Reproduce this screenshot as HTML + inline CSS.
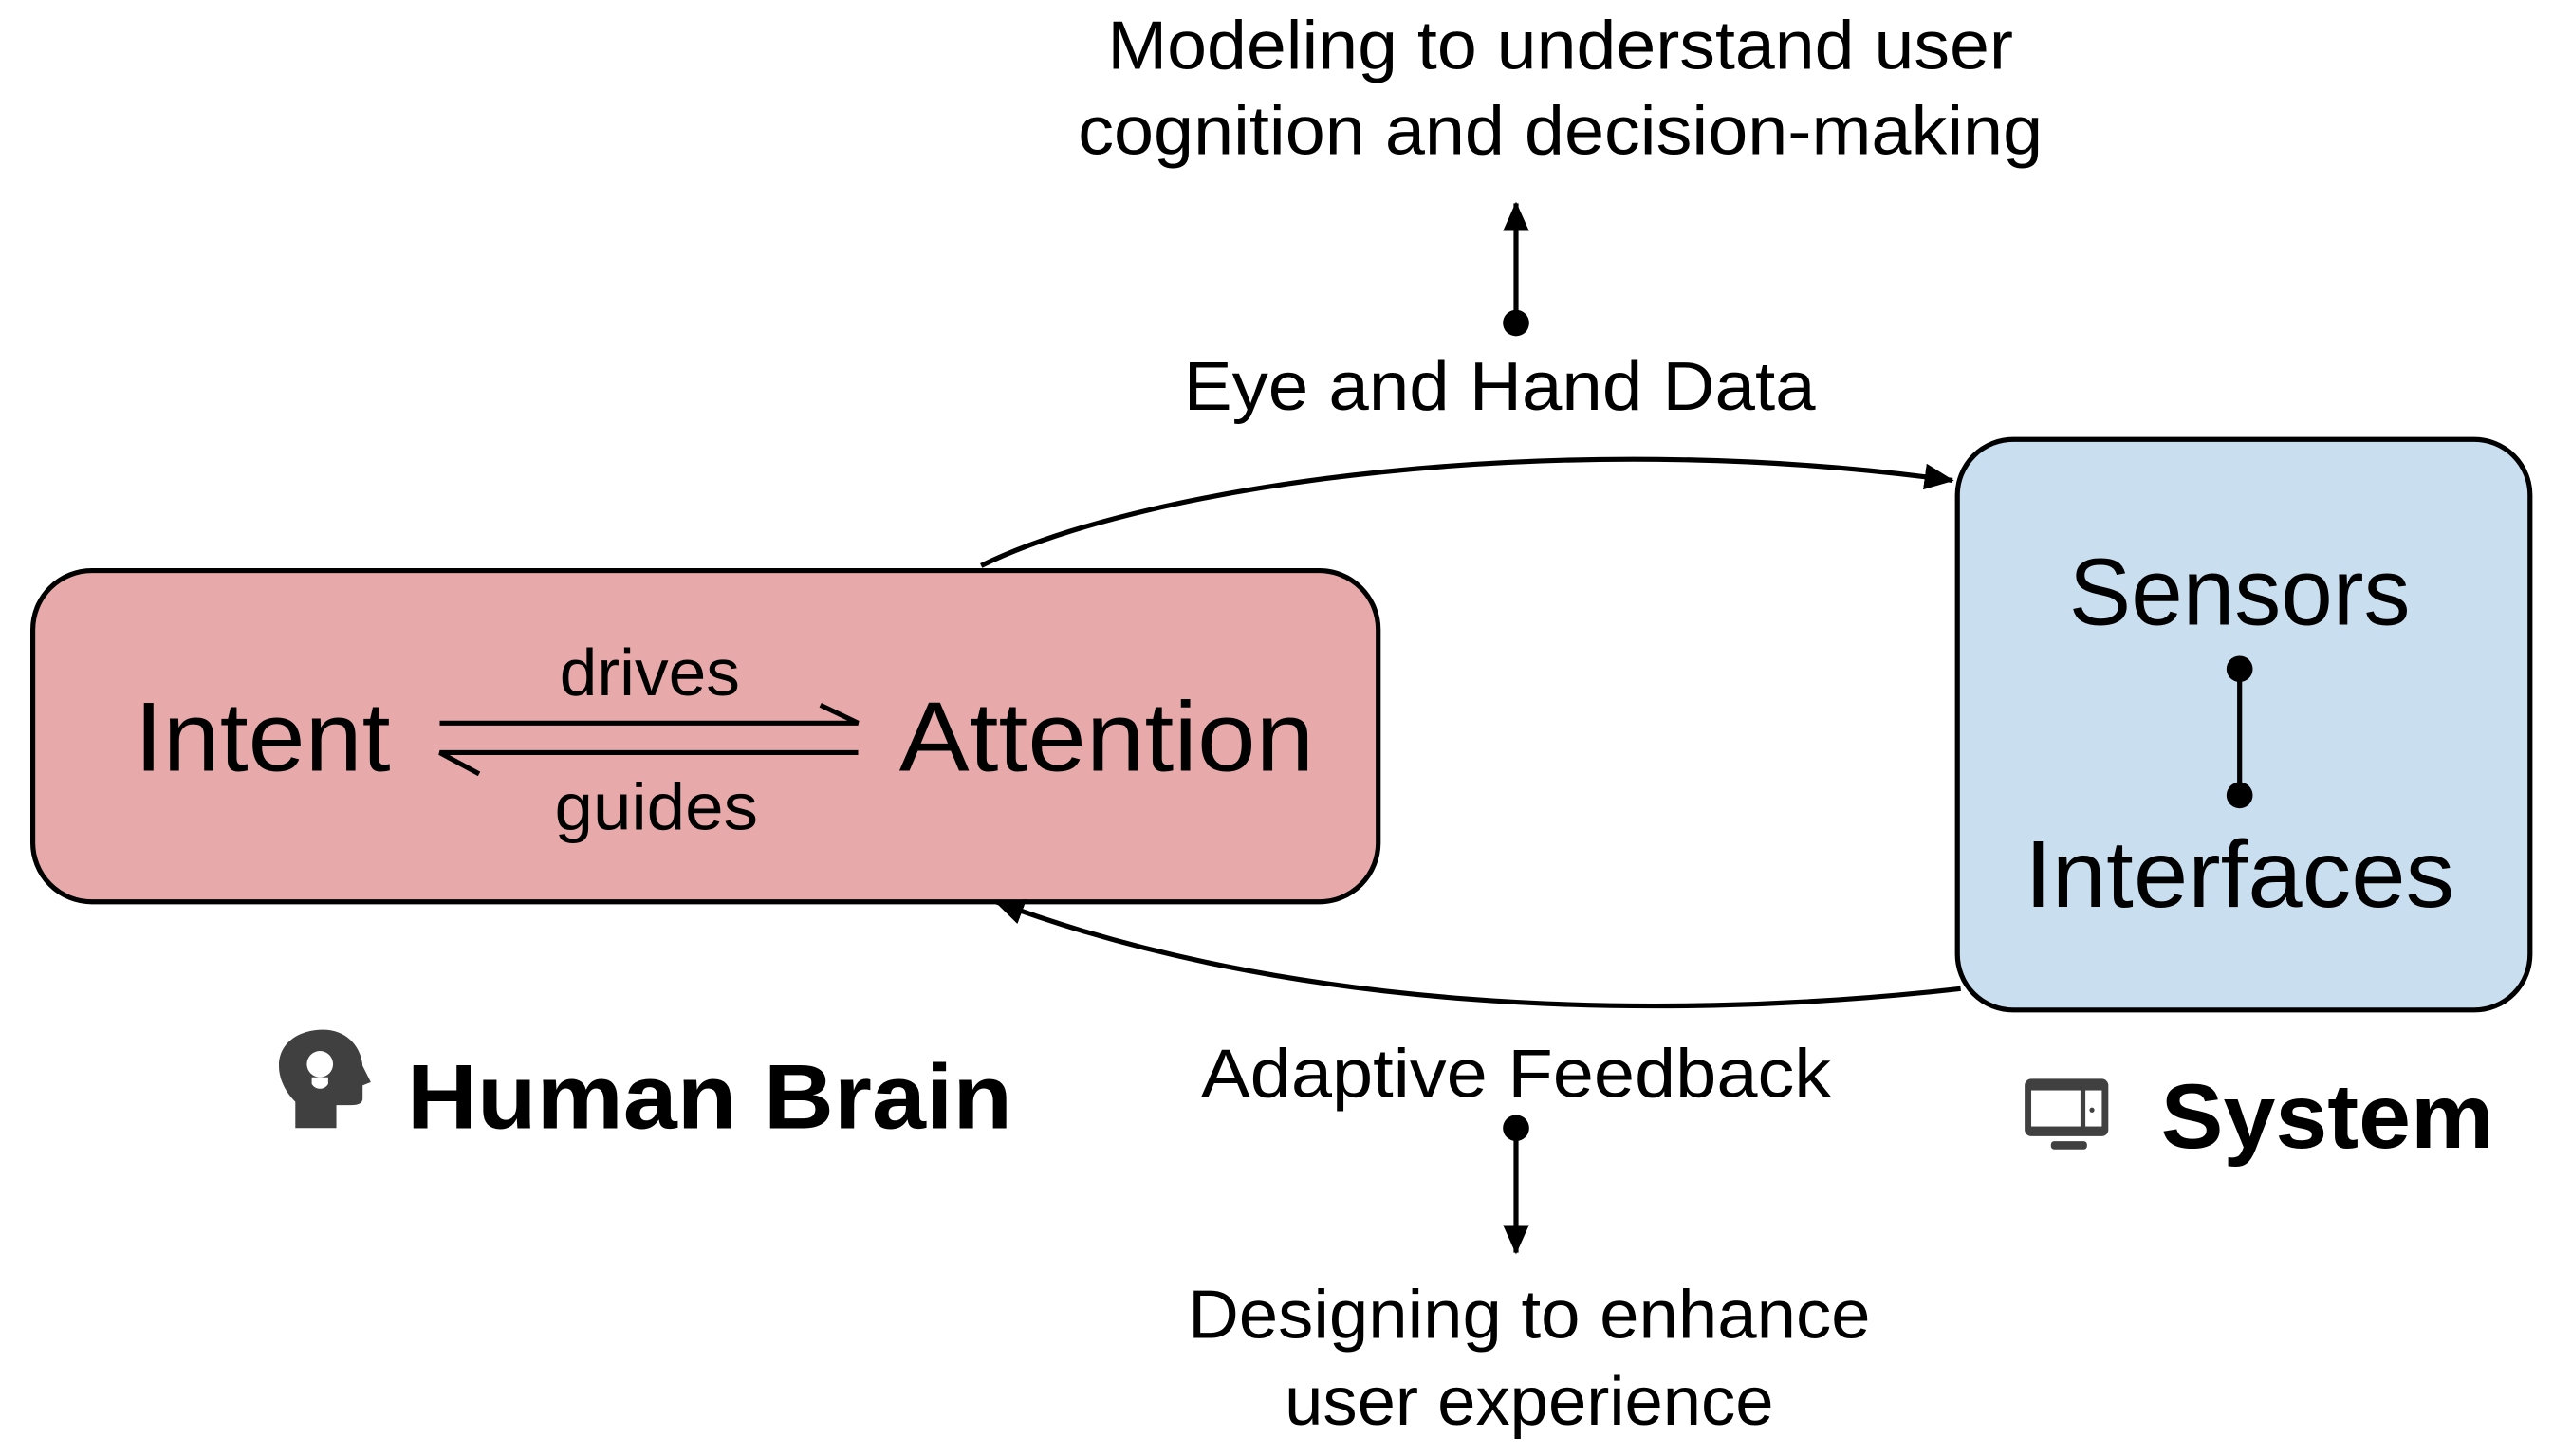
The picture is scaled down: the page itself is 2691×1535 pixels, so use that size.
<!DOCTYPE html>
<html><head><meta charset="utf-8">
<style>
html,body{margin:0;padding:0;background:#fff;}
svg{display:block;}
text{font-family:"Liberation Sans",sans-serif;fill:#000;}
</style></head>
<body>
<svg width="2691" height="1535" viewBox="0 0 1556 888" preserveAspectRatio="none" xmlns="http://www.w3.org/2000/svg">
<defs>
<marker id="ah2" markerWidth="18" markerHeight="16" refX="17" refY="8" orient="auto" markerUnits="userSpaceOnUse">
<path d="M0,0 L18,8 L0,16 z" fill="#000"/>
</marker>
</defs>

<text x="951" y="42" font-size="42" font-weight="300" text-anchor="middle" textLength="552" lengthAdjust="spacingAndGlyphs">Modeling to understand user</text>
<text x="951" y="94" font-size="42" font-weight="300" text-anchor="middle" textLength="588" lengthAdjust="spacingAndGlyphs">cognition and decision-making</text>
<line x1="924" y1="197" x2="924" y2="124" stroke="#000" stroke-width="3" marker-end="url(#ah2)"/>
<circle cx="924" cy="197" r="8" fill="#000"/>
<text x="914" y="250" font-size="42" text-anchor="middle" textLength="385" lengthAdjust="spacingAndGlyphs">Eye and Hand Data</text>

<rect x="20" y="348" width="820" height="202" rx="36" fill="#e8a9aa" stroke="#000" stroke-width="3"/>
<text x="82" y="470" font-size="60" textLength="156" lengthAdjust="spacingAndGlyphs">Intent</text>
<text x="548" y="470" font-size="60" textLength="253" lengthAdjust="spacingAndGlyphs">Attention</text>
<text x="396" y="424" font-size="40" font-weight="300" text-anchor="middle" textLength="110" lengthAdjust="spacingAndGlyphs">drives</text>
<text x="400" y="506" font-size="40" font-weight="300" text-anchor="middle" textLength="124" lengthAdjust="spacingAndGlyphs">guides</text>
<path d="M268,441 L523,441 L500,430" fill="none" stroke="#000" stroke-width="3"/>
<path d="M523,459 L268,459 L292,472" fill="none" stroke="#000" stroke-width="3"/>

<rect x="1193" y="268" width="349" height="348" rx="34" fill="#c9dff0" stroke="#000" stroke-width="3"/>
<text x="1365" y="381" font-size="58" text-anchor="middle" textLength="208" lengthAdjust="spacingAndGlyphs">Sensors</text>
<text x="1365" y="553" font-size="58" text-anchor="middle" textLength="262" lengthAdjust="spacingAndGlyphs">Interfaces</text>
<line x1="1365" y1="408" x2="1365" y2="485" stroke="#000" stroke-width="3"/>
<circle cx="1365" cy="408" r="8" fill="#000"/>
<circle cx="1365" cy="485" r="8" fill="#000"/>

<path d="M598,345 C700,295 950,260 1190,293" fill="none" stroke="#000" stroke-width="3" marker-end="url(#ah2)"/>
<path d="M1195,603 C1000,625 780,615 607,550" fill="none" stroke="#000" stroke-width="3" marker-end="url(#ah2)"/>

<text x="924" y="669" font-size="42" text-anchor="middle" textLength="384" lengthAdjust="spacingAndGlyphs">Adaptive Feedback</text>
<circle cx="924" cy="688" r="8" fill="#000"/>
<line x1="924" y1="688" x2="924" y2="764" stroke="#000" stroke-width="3" marker-end="url(#ah2)"/>
<text x="932" y="816" font-size="42" font-weight="300" text-anchor="middle" textLength="416" lengthAdjust="spacingAndGlyphs">Designing to enhance</text>
<text x="932" y="869" font-size="42" font-weight="300" text-anchor="middle" textLength="298" lengthAdjust="spacingAndGlyphs">user experience</text>

<path d="M180,688 L180,672 C173,665 170,657 170,650 C170,636 182,628 197,628 C211,628 220,638 221,650 L226,660 L221,662 L221,670 C221,673 218,674 214,674 L205,674 L205,688 Z" fill="#404040"/>
<circle cx="195" cy="649" r="8" fill="#fff"/>
<path d="M190,657 L200,657 L200,661 C198,665 192,665 190,661 Z" fill="#fff"/>
<text x="248" y="688" font-size="56" font-weight="bold" textLength="369" lengthAdjust="spacingAndGlyphs">Human Brain</text>

<rect x="1234" y="658" width="51" height="35" rx="4" fill="#404040"/>
<rect x="1238" y="665" width="30" height="22" fill="#fff"/>
<rect x="1271" y="665" width="10" height="22" fill="#fff"/>
<circle cx="1275" cy="677" r="1.5" fill="#404040"/>
<rect x="1250" y="696" width="22" height="5" rx="2" fill="#404040"/>
<text x="1317" y="700" font-size="56" font-weight="bold" textLength="203" lengthAdjust="spacingAndGlyphs">System</text>
</svg>
</body></html>
